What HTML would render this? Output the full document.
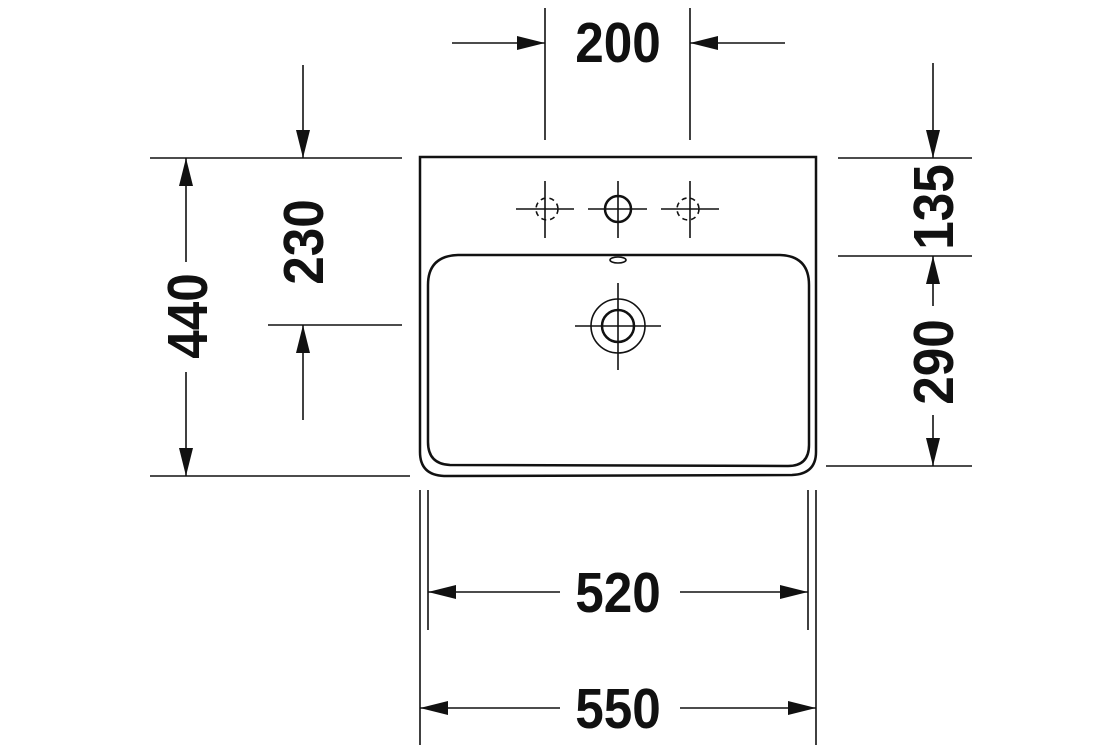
<!DOCTYPE html>
<html><head><style>html,body{margin:0;padding:0;background:#fff;}svg{display:block}
text{font-family:"Liberation Sans",sans-serif;font-weight:bold;font-size:57px;fill:#111;}</style></head>
<body>
<svg width="1120" height="750" viewBox="0 0 1120 750" xmlns="http://www.w3.org/2000/svg">
<defs>
<marker id="a" viewBox="0 0 28 14" refX="28" refY="7" markerWidth="28" markerHeight="14" markerUnits="userSpaceOnUse" orient="auto"><path d="M0 0L28 7L0 14Z" fill="#111"/></marker>
</defs>
<g stroke="#111" stroke-width="1.6" fill="none">
<!-- top dim -->
<line x1="545" y1="8" x2="545" y2="140"/><line x1="690" y1="8" x2="690" y2="140"/>
<line x1="452" y1="43" x2="545" y2="43" marker-end="url(#a)"/>
<line x1="785" y1="43" x2="690" y2="43" marker-end="url(#a)"/>
<!-- left ext lines -->
<line x1="150" y1="158" x2="402" y2="158"/><line x1="150" y1="476" x2="410" y2="476"/><line x1="268" y1="325" x2="402" y2="325"/>
<line x1="186" y1="262" x2="186" y2="158" marker-end="url(#a)"/>
<line x1="186" y1="372" x2="186" y2="476" marker-end="url(#a)"/>
<line x1="303" y1="65" x2="303" y2="158" marker-end="url(#a)"/>
<line x1="303" y1="420" x2="303" y2="325" marker-end="url(#a)"/>
<!-- right -->
<line x1="838" y1="158" x2="972" y2="158"/><line x1="838" y1="256" x2="972" y2="256"/><line x1="826" y1="466" x2="972" y2="466"/>
<line x1="933" y1="63" x2="933" y2="158" marker-end="url(#a)"/>
<line x1="933" y1="306" x2="933" y2="256" marker-end="url(#a)"/>
<line x1="933" y1="415" x2="933" y2="466" marker-end="url(#a)"/>
<!-- bottom -->
<line x1="428" y1="490" x2="428" y2="630"/><line x1="808" y1="490" x2="808" y2="630"/>
<line x1="420" y1="490" x2="420" y2="745"/><line x1="816" y1="490" x2="816" y2="745"/>
<line x1="560" y1="592" x2="428" y2="592" marker-end="url(#a)"/>
<line x1="680" y1="592" x2="808" y2="592" marker-end="url(#a)"/>
<line x1="560" y1="708" x2="420" y2="708" marker-end="url(#a)"/>
<line x1="680" y1="708" x2="816" y2="708" marker-end="url(#a)"/>
<!-- basin -->
<path d="M420 157 L816 157 L816 452 Q816 474 792 475 L444 476 Q420 475 420 452 Z" stroke-width="2.5"/>
<path d="M458 255 L780 255 Q809 256 809 285 L809 445 Q809 466 788 466 L450 465 Q428 464 428 442 L428 285 Q428 256 458 255 Z" stroke-width="2.5"/>
<ellipse cx="618" cy="260" rx="8" ry="3"/>
<!-- taps -->
<line x1="516" y1="209" x2="574" y2="209"/><line x1="545" y1="181" x2="545" y2="238"/>
<circle cx="547" cy="209" r="11" stroke-dasharray="5 4"/>
<line x1="588" y1="209" x2="647" y2="209"/><line x1="618" y1="181" x2="618" y2="238"/>
<circle cx="618" cy="209" r="13" stroke-width="2.5"/>
<line x1="661" y1="209" x2="719" y2="209"/><line x1="690" y1="181" x2="690" y2="238"/>
<circle cx="688" cy="209" r="11" stroke-dasharray="5 4"/>
<!-- drain -->
<line x1="575" y1="326" x2="661" y2="326"/><line x1="618" y1="283" x2="618" y2="370"/>
<circle cx="618" cy="326" r="27"/><circle cx="618" cy="326" r="16" stroke-width="2.5"/>
</g>
<g>
<text x="618" y="62" text-anchor="middle" transform="translate(618 0) scale(0.9 1) translate(-618 0)">200</text>
<text x="618" y="612" text-anchor="middle" transform="translate(618 0) scale(0.9 1) translate(-618 0)">520</text>
<text x="618" y="728" text-anchor="middle" transform="translate(618 0) scale(0.9 1) translate(-618 0)">550</text>
<text transform="translate(207 316) rotate(-90) scale(0.9 1)" text-anchor="middle">440</text>
<text transform="translate(323 242) rotate(-90) scale(0.9 1)" text-anchor="middle">230</text>
<text transform="translate(953 207) rotate(-90) scale(0.9 1)" text-anchor="middle">135</text>
<text transform="translate(953 362) rotate(-90) scale(0.9 1)" text-anchor="middle">290</text>
</g>
</svg>
</body></html>
